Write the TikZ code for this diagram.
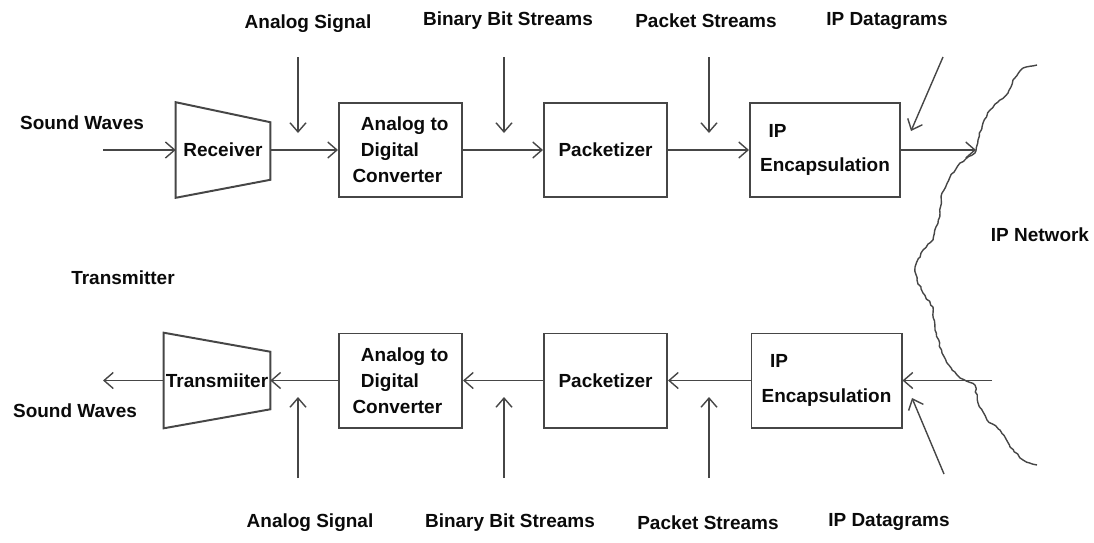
\documentclass[tikz,border=0pt]{standalone}
\usepackage{fontspec}
\setmainfont{Liberation Sans}
\usetikzlibrary{arrows.meta,calc,decorations.pathmorphing}
\definecolor{wire}{RGB}{70,70,70}
\definecolor{ink}{RGB}{10,10,10}
\pgfmathsetseed{11}
\tikzset{
  >={Straight Barb[length=2.3mm,width=4mm]},
  lbl/.style={font=\fontsize{13.5}{18.5}\selectfont\bfseries,text=ink,inner sep=0pt},
  blk/.style={draw=wire,line width=1.4pt,minimum height=2.35cm,minimum width=#1,lbl,align=left},
  blk/.default=3.075cm,
  trap/.style={minimum height=2.375cm,minimum width=#1,lbl},
  trap/.default=2.35cm,
  edge/.style={draw=wire,line width=1.4pt},
  flow/.style={->,draw=wire,line width=1pt},
  cloudline/.style={draw=wire,line width=1pt,line join=round,decorate,
    decoration={random steps,segment length=2.5pt,amplitude=0.6pt}},
}
\begin{document}
\begin{tikzpicture}[x=0.025cm,y=-0.025cm]
  \useasboundingbox (0,0) rectangle (1094,542);

  % sending side
  \node[trap] (rcv) at (223,150) {Receiver};
  \draw[edge] (rcv.north west) -- ($(rcv.north east)+(0,20)$)
    -- ($(rcv.south east)+(0,-18)$) -- (rcv.south west) -- cycle;
  \node[blk] (adc1) at (400.5,150) {\hspace*{6pt}Analog to\\\hspace*{6pt}Digital\\Converter};
  \node[blk] (pkt1) at (605.5,150) {Packetizer};
  \node[blk=3.75cm] (ipe1) at (825,150) {\hspace*{6pt}IP\\[6pt]Encapsulation};

  % receiving side
  \node[trap=2.65cm] (tx) at (217,380.5) {Transmiiter};
  \draw[edge] (tx.north west) -- ($(tx.north east)+(0,19)$)
    -- ($(tx.south east)+(0,-19)$) -- (tx.south west) -- cycle;
  \node[blk] (adc2) at (400.5,380.5) {\hspace*{6pt}Analog to\\\hspace*{6pt}Digital\\Converter};
  \node[blk] (pkt2) at (605.5,380.5) {Packetizer};
  \node[blk=3.75cm] (ipe2) at (826.5,380.5) {\hspace*{6pt}IP\\[6pt]Encapsulation};

  % texts
  \node[lbl] (sw1) at (82,123) {Sound Waves};
  \node[lbl] (sw2) at (75,411) {Sound Waves};
  \node[lbl] (txl) at (123,278) {Transmitter};
  \node[lbl] (net) at (1040,235) {IP Network};

  % chain
  \coordinate (in1) at (103,150);
  \coordinate (out2) at (103,380.5);
  \coordinate (net1) at (976,150);
  \coordinate (net2) at (992,380.5);
  \draw[flow] (in1) -- (rcv.west);
  \draw[flow] (rcv.east) -- (adc1.west);
  \draw[flow] (adc1.east) -- (pkt1.west);
  \draw[flow] (pkt1.east) -- (ipe1.west);
  \draw[flow] (ipe1.east) -- (net1);
  \draw[flow] (net2) -- (ipe2.east);
  \draw[flow] (ipe2.west) -- (pkt2.east);
  \draw[flow] (pkt2.west) -- (adc2.east);
  \draw[flow] (adc2.west) -- (tx.east);
  \draw[flow] (tx.west) -- (out2);

  % stream labels
  \foreach \x/\lx/\ly/\t [count=\i] in {298/308/24/Analog Signal,
      504/508/21/Binary Bit Streams,709/706/21/Packet Streams}
  {
    \node[lbl] (up\i) at (\lx,\ly) {\t};
    \node[lbl] (dn\i) at (\lx+2,523) {\t};
    \coordinate (ua\i) at (\x,57);
    \coordinate (ub\i) at (\x,133);
    \coordinate (da\i) at (\x,478);
    \coordinate (db\i) at (\x,397);
    \draw[flow] (ua\i) -- (ub\i);
    \draw[flow] (da\i) -- (db\i);
  }
  \node[lbl] (up4) at (887,21) {IP Datagrams};
  \node[lbl] (dn4) at (889,522) {IP Datagrams};
  \coordinate (ua4) at (943,57);
  \coordinate (ub4) at (911,131);
  \coordinate (da4) at (944,474);
  \coordinate (db4) at (912,398);
  \draw[flow] (ua4) -- (ub4);
  \draw[flow] (da4) -- (db4);

  % network edge
  \draw[cloudline] plot coordinates {(1037,65) (1023,68) (1013,80)
    (1008,93) (998,102) (990,110) (983,123) (978,140) (975,153) (960,163)
    (950,177) (942,193) (940,213) (933,240) (923,250) (915,267) (917,280)
    (923,293) (933,307) (935,330) (942,353) (952,370) (960,378) (975,385)
    (978,403) (987,420) (1000,430) (1010,447) (1023,460) (1037,465)};
\end{tikzpicture}
\end{document}
